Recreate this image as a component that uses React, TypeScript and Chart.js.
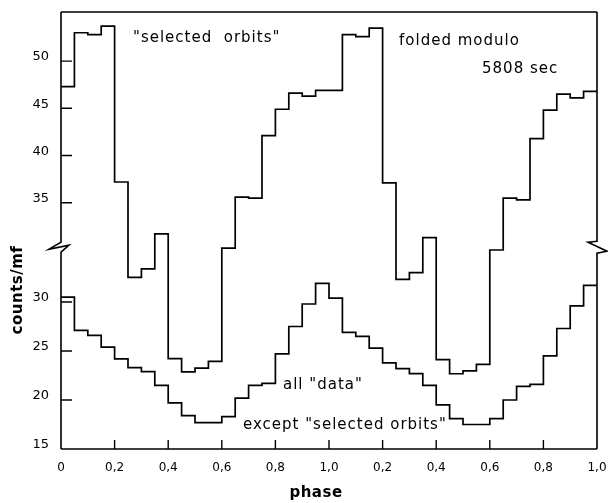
import React, { useEffect, useRef } from "react";
import { Chart, registerables } from "chart.js";

Chart.register(...registerables);

// ---- data ----
const BIN_WIDTH = 0.05; // phase width of one bin (20 bins per cycle, 2 cycles shown)

// "selected orbits" (upper curve, read on the upper axis 35..50)
const SELECTED_ORBITS = [
  47.3, 53.0, 52.8, 53.7, 37.2, 27.1, 28.0, 31.7, 18.5, 17.1,
  17.5, 18.2, 30.2, 35.6, 35.5, 42.1, 44.9, 46.6, 46.3, 46.9,
  46.9, 52.8, 52.6, 53.5, 37.1, 26.9, 27.6, 31.3, 18.4, 16.9,
  17.2, 17.9, 30.0, 35.5, 35.3, 41.8, 44.8, 46.5, 46.1, 46.8,
];

// all "data" except "selected orbits" (lower curve, read on the lower axis 15..30)
const ALL_EXCEPT_SELECTED = [
  30.5, 27.1, 26.6, 25.4, 24.2, 23.3, 22.9, 21.5, 19.7, 18.4,
  17.7, 17.7, 18.3, 20.2, 21.5, 21.7, 24.7, 27.5, 29.8, 31.9,
  30.4, 26.9, 26.5, 25.3, 23.8, 23.2, 22.7, 21.5, 19.5, 18.1,
  17.5, 17.5, 18.1, 20.0, 21.4, 21.6, 24.5, 27.3, 29.6, 31.7,
];

const X_TICKS = [0, 0.2, 0.4, 0.6, 0.8, 1.0, 1.2, 1.4, 1.6, 1.8, 2.0];
const X_TICK_LABELS = ["0", "0,2", "0,4", "0,6", "0,8", "1,0", "0,2", "0,4", "0,6", "0,8", "1,0"];
const Y_TICKS_LOWER = [15, 20, 25, 30];
const Y_TICKS_UPPER = [35, 40, 45, 50];

// broken axis: the upper part is drawn shifted on the common display scale
const UPPER_BASE = 35;
const UPPER_SHIFT = 40.13;
const UPPER_GAIN = 0.964;
const toDisplayUpper = (v: number) => UPPER_SHIFT + (v - UPPER_BASE) * UPPER_GAIN;

const Y_MIN = 15;
const Y_MAX = 59.6;
const BREAK_DISPLAY = 35.7;

const FONT = '"DejaVu Sans", "Open Sans", sans-serif';

const stepPoints = (vals: number[], map: (v: number) => number) => {
  const pts = vals.map((v, i) => ({ x: i * BIN_WIDTH, y: map(v) }));
  pts.push({ x: vals.length * BIN_WIDTH, y: map(vals[vals.length - 1]) });
  return pts;
};

const decorPlugin = {
  id: "decor",
  afterDraw(chart: any) {
    const { ctx, chartArea } = chart;
    const { left, right, top, bottom } = chartArea;
    const x = chart.scales.x;
    const y = chart.scales.y;
    const b = y.getPixelForValue(BREAK_DISPLAY);
    ctx.save();
    ctx.strokeStyle = "#000";
    ctx.lineWidth = 1.6;
    ctx.lineJoin = "miter";
    ctx.beginPath();
    // top & bottom
    ctx.moveTo(left, top);
    ctx.lineTo(right, top);
    ctx.moveTo(left, bottom);
    ctx.lineTo(right, bottom);
    // left axis with break
    ctx.moveTo(left, top);
    ctx.lineTo(left, b - 4);
    ctx.lineTo(left - 12, b + 3);
    ctx.lineTo(left + 8, b - 1);
    ctx.lineTo(left, b + 6);
    ctx.lineTo(left, bottom);
    // right axis with break
    ctx.moveTo(right, top);
    ctx.lineTo(right, b - 5);
    ctx.lineTo(right - 9, b - 4);
    ctx.lineTo(right + 10, b + 5);
    ctx.lineTo(right, b + 7);
    ctx.lineTo(right, bottom);
    ctx.stroke();

    // inward tick marks
    ctx.lineWidth = 1.4;
    ctx.beginPath();
    const yt = [...Y_TICKS_LOWER, ...Y_TICKS_UPPER.map(toDisplayUpper)];
    yt.forEach((v) => {
      const py = y.getPixelForValue(v);
      if (Math.abs(py - bottom) < 1) return;
      ctx.moveTo(left, py);
      ctx.lineTo(left + 11, py);
    });
    X_TICKS.forEach((v) => {
      const px = x.getPixelForValue(v);
      if (Math.abs(px - left) < 1 || Math.abs(px - right) < 1) return;
      ctx.moveTo(px, bottom);
      ctx.lineTo(px, bottom - 9);
    });
    ctx.stroke();

    // annotations
    ctx.fillStyle = "#000";
    ctx.textBaseline = "middle";
    ctx.textAlign = "left";
    ctx.font = `15px ${FONT}`;
    (ctx as any).letterSpacing = "1px";
    ctx.fillText('"selected  orbits"', 133, 38);
    ctx.fillText("folded modulo", 399, 41);
    ctx.fillText("5808 sec", 482, 69);
    ctx.fillText('all "data"', 283, 385);
    ctx.fillText('except "selected orbits"', 243, 425);

    // axis titles
    ctx.font = `bold 15px ${FONT}`;
    (ctx as any).letterSpacing = "0.5px";
    ctx.textAlign = "center";
    ctx.fillText("phase", 316, 493);
    ctx.translate(18, 290);
    ctx.rotate(-Math.PI / 2);
    ctx.fillText("counts/mf", 0, 0);
    ctx.restore();
  },
};

export default function App() {
  const ref = useRef<HTMLCanvasElement | null>(null);

  useEffect(() => {
    if (!ref.current) return;
    const yTickVals = [...Y_TICKS_LOWER, ...Y_TICKS_UPPER.map(toDisplayUpper)];
    const yTickLabels = [...Y_TICKS_LOWER, ...Y_TICKS_UPPER].map(String);

    const chart = new Chart(ref.current, {
      type: "line",
      data: {
        datasets: [
          {
            label: "selected orbits",
            data: stepPoints(SELECTED_ORBITS, toDisplayUpper),
            stepped: "before",
            borderColor: "#000",
            borderWidth: 1.7,
            pointRadius: 0,
            fill: false,
          },
          {
            label: "all data except selected orbits",
            data: stepPoints(ALL_EXCEPT_SELECTED, (v) => v),
            stepped: "before",
            borderColor: "#000",
            borderWidth: 1.7,
            pointRadius: 0,
            fill: false,
          },
        ],
      },
      options: {
        animation: false,
        responsive: true,
        maintainAspectRatio: false,
        layout: { padding: { top: 12, right: 11, left: 0, bottom: 0 } },
        plugins: { legend: { display: false }, tooltip: { enabled: false }, title: { display: false } },
        scales: {
          x: {
            type: "linear",
            min: 0,
            max: 2,
            grid: { display: false, drawTicks: false },
            border: { display: false },
            afterBuildTicks: (s: any) => {
              s.ticks = X_TICKS.map((v) => ({ value: v }));
            },
            afterFit: (s: any) => {
              s.height = 54;
              s.paddingLeft = 0;
              s.paddingRight = 0;
            },
            ticks: {
              autoSkip: false,
              maxRotation: 0,
              padding: 12,
              color: "#000",
              font: { family: FONT, size: 12 },
              callback: (_v: any, i: number) => X_TICK_LABELS[i],
            },
          },
          y: {
            type: "linear",
            min: Y_MIN,
            max: Y_MAX,
            grid: { display: false, drawTicks: false },
            border: { display: false },
            afterBuildTicks: (s: any) => {
              s.ticks = yTickVals.map((v) => ({ value: v }));
            },
            afterFit: (s: any) => {
              s.width = 61;
              s.paddingTop = 0;
              s.paddingBottom = 0;
            },
            ticks: {
              autoSkip: false,
              padding: 12,
              labelOffset: -4,
              color: "#000",
              font: { family: FONT, size: 13 },
              callback: (_v: any, i: number) => yTickLabels[i],
            },
          },
        },
      },
      plugins: [decorPlugin],
    } as any);

    return () => chart.destroy();
  }, []);

  return (
    <div style={{ position: "fixed", left: 0, top: 0, width: 608, height: 503, background: "#fff" }}>
      <canvas ref={ref} />
    </div>
  );
}
